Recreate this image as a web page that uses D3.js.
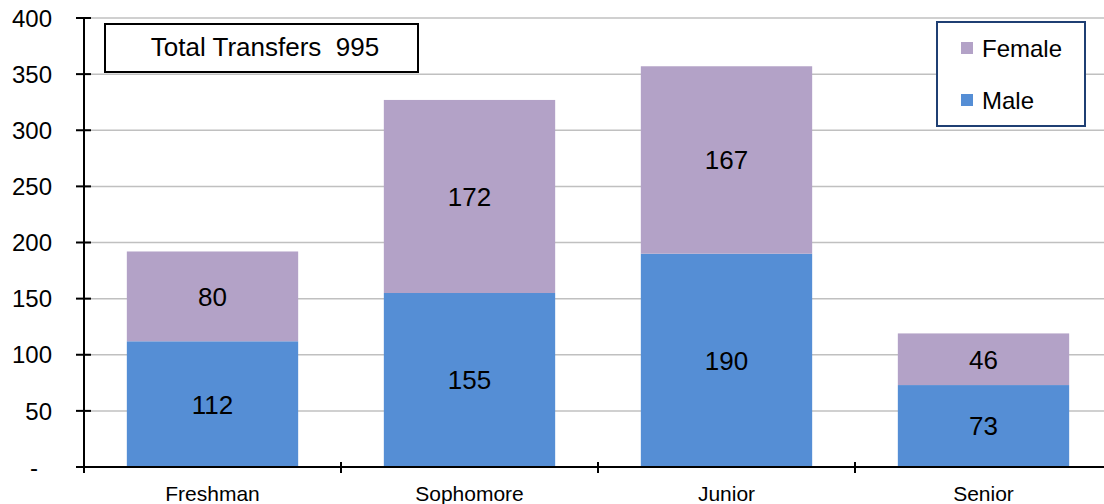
<!DOCTYPE html>
<html>
<head>
<meta charset="utf-8">
<script src="https://cdn.jsdelivr.net/npm/d3@7"></script>
<style>
    body { margin: 0; background: #fff; }
    svg { display: block; font-family: "Liberation Sans", Arial, sans-serif; }
</style>
</head>
<body>
<div id="chart"></div>
<script>
// Chart data
const classes = ["Freshman", "Sophomore", "Junior", "Senior"]
const male = [112, 155, 190, 73]
const female = [80, 172, 167, 46]
const yTicks = [0, 50, 100, 150, 200, 250, 300, 350, 400]
const totalLabel = "Total Transfers  995"
const seriesNames = ["Female", "Male"]

const width = 1104
const height = 504
const margin = { top: 18, bottom: 37, left: 84, right: -8 }

const color = { "Male": "#558ed5", "Female": "#b3a2c7" }

const svg = d3.select("#chart")
    .append("svg")
    .attr("width", width)
    .attr("height", height)

const x = d3.scaleBand()
    .domain(classes)
    .range([margin.left, width - margin.right])
    .paddingInner(1 / 3)
    .paddingOuter(1 / 6)

const y = d3.scaleLinear()
    .domain([0, 400])
    .range([height - margin.bottom, margin.top])

// Gridlines
svg.append("g")
    .selectAll("line")
    .data(yTicks.slice(1))
    .join("line")
    .attr("x1", margin.left)
    .attr("x2", width)
    .attr("y1", d => y(d))
    .attr("y2", d => y(d))
    .attr("stroke", "#c0c0c0")
    .attr("stroke-width", 1.5)

// Stacked bars
const rows = classes.map((c, i) => ({ cls: c, Male: male[i], Female: female[i] }))
const stack = d3.stack().keys(["Male", "Female"])(rows)

const layers = svg.append("g")
    .selectAll("g")
    .data(stack)
    .join("g")
    .attr("fill", d => color[d.key])

layers.selectAll("rect")
    .data(d => d)
    .join("rect")
    .attr("x", d => x(d.data.cls))
    .attr("width", x.bandwidth())
    .attr("y", d => y(d[1]))
    .attr("height", d => y(d[0]) - y(d[1]))

layers.selectAll("text")
    .data(d => d)
    .join("text")
    .attr("x", d => x(d.data.cls) + x.bandwidth() / 2)
    .attr("y", d => (y(d[0]) + y(d[1])) / 2)
    .attr("dy", "0.36em")
    .attr("text-anchor", "middle")
    .attr("fill", "#000")
    .attr("font-size", 26)
    .text(d => d[1] - d[0])

// Y axis
const yAxis = svg.append("g")
    .attr("transform", `translate(${margin.left},0)`)
yAxis.append("line")
    .attr("y1", y(400)).attr("y2", y(0))
    .attr("stroke", "#000").attr("stroke-width", 2)
yAxis.selectAll(".tick")
    .data(yTicks)
    .join("line")
    .attr("x1", -8).attr("x2", 7)
    .attr("y1", d => y(d)).attr("y2", d => y(d))
    .attr("stroke", "#000").attr("stroke-width", 2)
yAxis.selectAll("text")
    .data(yTicks)
    .join("text")
    .attr("x", d => d === 0 ? -46 : -32)
    .attr("y", d => y(d))
    .attr("dy", "0.36em")
    .attr("text-anchor", "end")
    .attr("font-size", 24)
    .text(d => d === 0 ? "-" : d)

// X axis
const xAxis = svg.append("g")
    .attr("transform", `translate(0,${y(0)})`)
xAxis.append("line")
    .attr("x1", margin.left).attr("x2", width)
    .attr("stroke", "#000").attr("stroke-width", 2)
const step = x.step()
xAxis.selectAll(".tick")
    .data(d3.range(classes.length))
    .join("line")
    .attr("x1", i => margin.left + i * step)
    .attr("x2", i => margin.left + i * step)
    .attr("y1", -5).attr("y2", 6)
    .attr("stroke", "#000").attr("stroke-width", 2)
xAxis.selectAll("text")
    .data(classes)
    .join("text")
    .attr("x", d => x(d) + x.bandwidth() / 2)
    .attr("y", 34)
    .attr("text-anchor", "middle")
    .attr("font-size", 21)
    .text(d => d)

// Total box
svg.append("rect")
    .attr("x", 105).attr("y", 24)
    .attr("width", 313).attr("height", 48)
    .attr("fill", "#fff").attr("stroke", "#000").attr("stroke-width", 2)
svg.append("text")
    .attr("x", 265).attr("y", 47)
    .attr("dy", "0.36em")
    .attr("text-anchor", "middle")
    .attr("font-size", 26)
    .style("white-space", "pre")
    .text(totalLabel)

// Legend
svg.append("rect")
    .attr("x", 937).attr("y", 22)
    .attr("width", 148).attr("height", 104)
    .attr("fill", "#fff").attr("stroke", "#1f3f73").attr("stroke-width", 2)
const legendItems = svg.append("g")
    .selectAll("g")
    .data(seriesNames)
    .join("g")
    .attr("transform", (d, i) => `translate(961,${48 + i * 52})`)
legendItems.append("rect")
    .attr("x", 0).attr("y", -6)
    .attr("width", 12).attr("height", 12)
    .attr("fill", d => color[d])
legendItems.append("text")
    .attr("x", 21).attr("dy", "0.36em")
    .attr("font-size", 24)
    .text(d => d)
</script>
</body>
</html>
